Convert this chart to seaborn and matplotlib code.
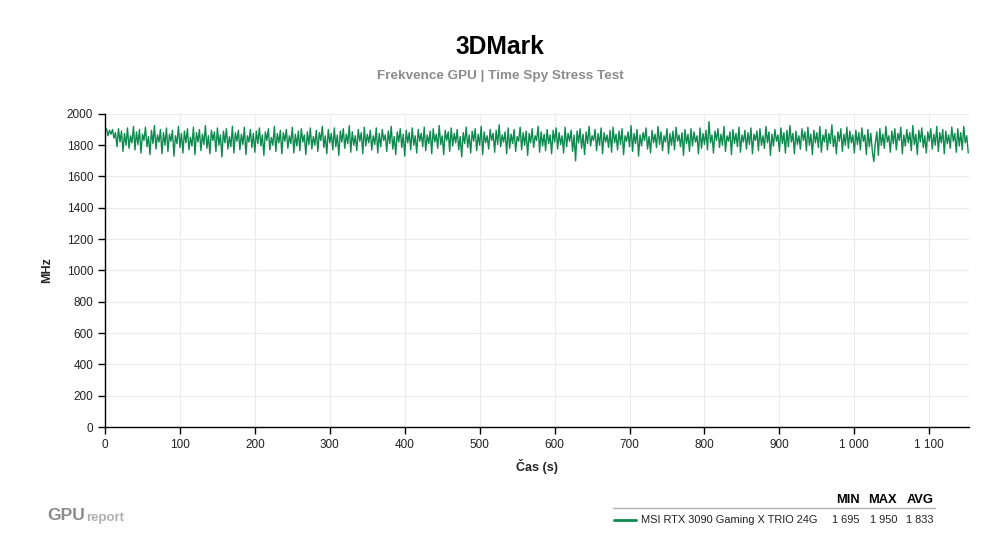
import matplotlib
matplotlib.use("Agg")
import matplotlib.pyplot as plt
from matplotlib.lines import Line2D
from matplotlib.ticker import FuncFormatter, MultipleLocator
import seaborn as sns
import pandas as pd

# ---- data (one sample every 2 s) ----
mhz = [
    1890, 1905, 1860, 1895, 1870, 1900, 1845, 1880, 1790, 1905, 1820, 1890, 1760, 1875, 1800, 1910, 1780, 1860, 1815, 1920,
    1770, 1885, 1805, 1900, 1750, 1870, 1830, 1915, 1790, 1855, 1740, 1895, 1810, 1925, 1775, 1865, 1820, 1900, 1745, 1880,
    1800, 1910, 1760, 1870, 1825, 1895, 1730, 1860, 1810, 1920, 1785, 1875, 1750, 1890, 1815, 1905, 1770, 1850, 1795, 1915,
    1740, 1880, 1820, 1900, 1765, 1870, 1805, 1925, 1780, 1860, 1745, 1895, 1830, 1885, 1760, 1910, 1800, 1865, 1725, 1890,
    1815, 1905, 1775, 1855, 1790, 1920, 1750, 1880, 1825, 1895, 1770, 1870, 1805, 1915, 1740, 1860, 1820, 1900, 1785, 1875,
    1755, 1890, 1810, 1910, 1795, 1865, 1735, 1885, 1830, 1905, 1770, 1850, 1800, 1920, 1760, 1875, 1815, 1895, 1745, 1880,
    1825, 1900, 1780, 1860, 1810, 1915, 1750, 1870, 1795, 1890, 1765, 1905, 1820, 1865, 1740, 1885, 1805, 1910, 1775, 1855,
    1800, 1895, 1760, 1880, 1830, 1920, 1785, 1860, 1745, 1900, 1815, 1875, 1770, 1910, 1790, 1865, 1735, 1890, 1820, 1905,
    1780, 1870, 1810, 1925, 1755, 1885, 1800, 1860, 1765, 1900, 1825, 1880, 1745, 1915, 1795, 1870, 1815, 1895, 1770, 1860,
    1805, 1910, 1750, 1875, 1790, 1900, 1830, 1865, 1760, 1890, 1810, 1920, 1775, 1855, 1740, 1885, 1820, 1905, 1785, 1870,
    1730, 1895, 1815, 1880, 1770, 1910, 1800, 1860, 1750, 1900, 1825, 1875, 1790, 1915, 1765, 1865, 1810, 1890, 1745, 1905,
    1820, 1870, 1780, 1925, 1805, 1860, 1740, 1895, 1830, 1885, 1760, 1910, 1795, 1875, 1815, 1900, 1770, 1855, 1725, 1880,
    1810, 1915, 1785, 1865, 1750, 1890, 1825, 1905, 1765, 1870, 1800, 1920, 1740, 1885, 1815, 1860, 1775, 1900, 1830, 1875,
    1755, 1895, 1805, 1930, 1790, 1865, 1820, 1885, 1745, 1910, 1780, 1870, 1810, 1900, 1760, 1855, 1825, 1915, 1770, 1880,
    1800, 1890, 1735, 1875, 1815, 1905, 1785, 1860, 1830, 1920, 1755, 1885, 1795, 1870, 1765, 1900, 1810, 1865, 1745, 1895,
    1820, 1910, 1775, 1880, 1805, 1860, 1750, 1915, 1790, 1875, 1825, 1895, 1760, 1865, 1700, 1890, 1815, 1905, 1780, 1870,
    1740, 1885, 1810, 1920, 1795, 1860, 1830, 1900, 1765, 1875, 1800, 1910, 1745, 1880, 1820, 1865, 1785, 1895, 1755, 1915,
    1815, 1870, 1770, 1890, 1805, 1905, 1740, 1860, 1825, 1885, 1790, 1925, 1760, 1875, 1810, 1900, 1730, 1865, 1795, 1880,
    1830, 1910, 1775, 1855, 1750, 1895, 1815, 1870, 1785, 1920, 1805, 1885, 1765, 1860, 1820, 1905, 1745, 1875, 1800, 1890,
    1770, 1915, 1825, 1865, 1790, 1880, 1735, 1900, 1810, 1870, 1760, 1905, 1795, 1885, 1820, 1860, 1745, 1910, 1780, 1875,
    1805, 1895, 1770, 1950, 1815, 1865, 1750, 1890, 1830, 1905, 1785, 1870, 1800, 1920, 1760, 1860, 1825, 1885, 1740, 1900,
    1810, 1875, 1790, 1915, 1755, 1865, 1820, 1895, 1775, 1880, 1805, 1910, 1745, 1870, 1830, 1890, 1765, 1905, 1800, 1860,
    1780, 1920, 1815, 1885, 1735, 1870, 1795, 1900, 1825, 1865, 1760, 1910, 1810, 1880, 1750, 1895, 1790, 1925, 1820, 1875,
    1745, 1890, 1805, 1860, 1775, 1905, 1830, 1885, 1765, 1915, 1800, 1870, 1740, 1895, 1815, 1880, 1785, 1920, 1755, 1865,
    1820, 1900, 1770, 1875, 1810, 1930, 1790, 1860, 1745, 1885, 1825, 1905, 1760, 1870, 1800, 1915, 1780, 1890, 1815, 1865,
    1750, 1895, 1805, 1880, 1770, 1910, 1825, 1865, 1740, 1900, 1790, 1875, 1760, 1695, 1815, 1885, 1735, 1905, 1800, 1870,
    1780, 1920, 1820, 1860, 1755, 1890, 1810, 1905, 1770, 1875, 1830, 1915, 1745, 1865, 1795, 1900, 1815, 1880, 1765, 1925,
    1805, 1870, 1740, 1895, 1820, 1910, 1785, 1860, 1750, 1885, 1825, 1905, 1775, 1870, 1800, 1920, 1760, 1880, 1815, 1900,
    1745, 1890, 1810, 1865, 1780, 1915, 1825, 1875, 1755, 1905, 1795, 1880, 1770, 1920, 1815, 1860, 1750,
]
time_s = list(range(0, 2 * len(mhz), 2))

series_name = "MSI RTX 3090 Gaming X TRIO 24G"
stat_headers = ["MIN", "MAX", "AVG"]
stat_values = ["1 695", "1 950", "1 833"]
title = "3DMark"
subtitle = "Frekvence GPU | Time Spy Stress Test"
x_label = "Čas (s)"
y_label = "MHz"
line_color = "#0d8a4e"

df = pd.DataFrame({"t": time_s, "mhz": mhz})

sns.set_style("white")
plt.rcParams["font.family"] = ["Liberation Sans", "DejaVu Sans"]

fig = plt.figure(figsize=(10, 5.5), dpi=100)
ax = fig.add_axes([0.105, 0.2236, 0.864, 0.5694])

sns.lineplot(data=df, x="t", y="mhz", ax=ax, color=line_color, linewidth=1.0)

ax.set_xlim(0, 1153)
ax.set_ylim(0, 2000)
ax.xaxis.set_major_locator(MultipleLocator(100))
ax.yaxis.set_major_locator(MultipleLocator(200))

def fmt_thousands(v, pos):
    return f"{int(round(v)):,}".replace(",", " ")

ax.xaxis.set_major_formatter(FuncFormatter(fmt_thousands))
ax.grid(True, color="#ebebeb", linewidth=0.8)
ax.set_axisbelow(True)
for side in ["top", "right"]:
    ax.spines[side].set_visible(False)
for side in ["left", "bottom"]:
    ax.spines[side].set_color("black")
    ax.spines[side].set_linewidth(1.0)
ax.tick_params(axis="both", which="major", direction="out", length=5, width=1,
               color="black", labelsize=8.5, labelcolor="#222222", left=True, bottom=True)

ax.set_xlabel(x_label, fontsize=9, fontweight="bold", labelpad=6)
ax.set_ylabel(y_label, fontsize=9, fontweight="bold", labelpad=10)

fig.text(0.5, 1 - 47 / 550, title, ha="center", va="center", fontsize=17.7, fontweight="bold", color="black")
fig.text(0.5, 1 - 76 / 550, subtitle, ha="center", va="center", fontsize=9.7, fontweight="bold", color="#8c8c8c")

# logo
gpu_txt = fig.text(0.047, 1 - 516 / 550, "GPU", ha="left", va="center", fontsize=12.5,
                   fontweight="bold", color="#8a8a8a")
fig.canvas.draw()
bb = gpu_txt.get_window_extent().transformed(fig.transFigure.inverted())
fig.text(bb.x1 + 0.001, 1 - 518 / 550, "report", ha="left", va="center", fontsize=9.5,
         fontweight="bold", color="#b0b0b0")

# legend table
hdr_y = 1 - 500 / 550
row_y = 1 - 520 / 550
col_right = [0.860, 0.897, 0.934]
for h, v, xr in zip(stat_headers, stat_values, col_right):
    fig.text(xr, hdr_y, h, ha="right", va="center", fontsize=9.3, fontweight="bold", color="black")
    fig.text(xr, row_y, v, ha="right", va="center", fontsize=7.9, color="#222222")
fig.add_artist(Line2D([0.613, 0.935], [1 - 508 / 550] * 2, transform=fig.transFigure,
                      color="#b0b0b0", linewidth=1))
fig.add_artist(Line2D([0.614, 0.636], [row_y] * 2, transform=fig.transFigure,
                      color=line_color, linewidth=2))
fig.text(0.641, row_y, series_name, ha="left", va="center", fontsize=7.9, color="#222222")

fig.savefig("out.png", dpi=100)
